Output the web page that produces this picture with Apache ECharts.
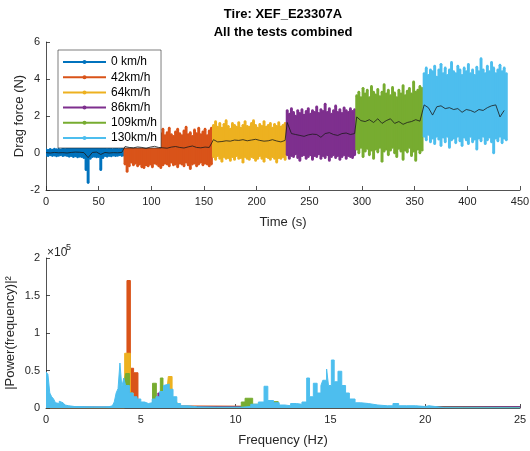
<!DOCTYPE html>
<html><head><meta charset="utf-8">
<script src="https://cdn.jsdelivr.net/npm/echarts@6/dist/echarts.min.js"></script>
<style>html,body{margin:0;padding:0;background:#fff}#c{width:530px;height:451px}</style>
</head><body><div id="c"></div>
<script>
// ---------- categories ----------
const speeds = ['0 km/h','42km/h','64km/h','86km/h','109km/h','130km/h'];
const colors = ['#0072BD','#D95319','#EDB120','#7E2F8E','#77AC30','#4DBEEE'];
const titleLines = ['Tire: XEF_E23307A','All the tests combined'];

// ---------- time signal: envelope (high / low) every 2 s ----------
const segStart = [0,75,159,229,295,359];
const bandStep = 2;
const hi0 = [0.18,0.15,0.2,0.16,0.22,0.18,0.2,0.17,0.24,0.2,0.22,0.25,0.3,0.28,0.35,0.32,0.3,0.38,0.33,0.36,0.3,0.34,0.28,0.25,0.3,0.24,0.26,0.22,0.27,0.2,0.24,0.22,0.2,0.25,0.22,0.2,0.24,0.26];
const lo0 = [-0.12,-0.15,-0.1,-0.14,-0.12,-0.16,-0.13,-0.1,-0.15,-0.12,-0.14,-0.18,-0.15,-0.2,-0.16,-0.22,-0.18,-0.2,-0.25,-0.9,-1.6,-0.3,-0.2,-0.18,-0.22,-0.2,-0.9,-0.25,-0.15,-0.18,-0.14,-0.16,-0.12,-0.15,-0.13,-0.1,-0.14,-0.12];
const hi42 = [1.0,1.3,0.9,1.1,1.2,0.85,1.0,1.35,1.1,0.9,1.2,1.0,0.95,1.4,1.1,1.25,0.9,1.05,1.3,0.95,1.1,1.35,1.0,0.9,1.15,1.3,1.05,0.95,1.2,1.4,1.0,1.1,0.9,1.25,1.05,1.35,1.0,1.15,1.3,0.95,1.2,1.35];
const lo42 = [-0.6,-1.0,-0.7,-0.5,-0.65,-0.55,-0.7,-0.6,-0.75,-0.8,-0.65,-0.7,-0.6,-0.75,-0.55,-0.6,-0.7,-0.8,-0.65,-0.55,-0.6,-0.7,-0.5,-0.65,-0.6,-0.75,-0.55,-0.6,-0.7,-0.5,-0.65,-0.85,-0.6,-0.55,-0.7,-0.6,-0.5,-0.65,-0.55,-0.6,-0.7,-0.6];
const hi64 = [1.5,1.7,1.4,1.6,1.35,1.55,1.75,1.45,1.3,1.6,1.5,1.4,1.65,1.35,1.5,1.7,1.45,1.4,1.6,1.75,1.5,1.35,1.55,1.45,1.7,1.4,1.5,1.6,1.35,1.55,1.45,1.65,1.4,1.5,1.6];
const lo64 = [-0.2,-0.35,-0.15,-0.3,-0.45,-0.2,-0.3,-0.25,-0.4,-0.2,-0.35,-0.15,-0.3,-0.25,-0.5,-0.2,-0.3,-0.35,-0.2,-0.25,-0.4,-0.3,-0.15,-0.3,-0.45,-0.2,-0.25,-0.35,-0.2,-0.3,-0.5,-0.25,-0.3,-0.2,-0.35];
const hi86 = [2.3,2.1,2.4,2.2,2.0,2.3,2.15,2.35,2.05,2.25,2.4,2.1,2.3,2.2,2.5,2.15,2.35,2.25,2.65,2.2,2.4,2.1,2.3,2.55,2.2,2.35,2.15,2.45,2.3,2.2,2.4,2.25,2.35];
const lo86 = [-0.1,-0.3,-0.15,-0.2,-0.05,-0.25,-0.4,-0.15,-0.1,-0.3,-0.2,-0.1,-0.35,-0.15,-0.2,-0.05,-0.3,-0.15,-0.25,-0.1,-0.4,-0.2,-0.1,-0.25,-0.15,-0.35,-0.2,-0.1,-0.3,-0.15,-0.2,-0.25,-0.1];
const hi109 = [3.1,3.3,3.0,3.5,3.2,3.4,3.0,3.6,3.3,3.15,3.45,3.05,3.3,3.7,3.2,3.4,3.1,3.55,3.25,3.0,3.4,3.2,3.65,3.1,3.35,3.5,3.2,3.85,3.3,3.4,3.6,3.5];
const lo109 = [0.2,0.0,0.3,-0.2,0.1,0.25,-0.1,0.15,-0.3,0.2,0.05,0.3,-0.45,0.1,0.2,-0.1,0.15,0.3,0.0,-0.2,0.25,0.1,-0.35,0.15,0.05,0.3,-0.15,0.1,-0.4,0.2,0.0,0.15];
const hi130 = [4.3,4.6,4.2,4.5,4.4,4.7,4.1,4.5,4.8,4.3,4.6,4.2,4.5,4.9,4.4,4.3,4.7,4.5,4.2,4.6,4.4,4.8,4.3,4.5,4.2,4.65,4.4,5.1,4.5,4.3,4.7,4.4,4.9,4.6,4.3,4.5,4.75,4.4,4.6,4.3];
const lo130 = [0.9,0.7,1.0,0.6,0.8,0.5,0.9,0.75,0.4,0.85,0.6,0.9,0.3,0.7,0.8,0.55,0.9,0.65,0.4,0.85,0.7,0.5,0.9,0.6,0.75,0.2,0.8,0.65,0.9,0.5,0.7,0.85,0.6,0.0,0.8,0.65,0.9,0.55,0.8,0.7];

// ---------- moving mean (black line), every 4 s ----------
const meanStep = 4;
const mean0 = [0.02,0.0,0.03,0.01,0.02,0.0,0.03,0.05,0.04,0.02,-0.25,0.03,0.05,-0.08,0.03,0.0,0.02,0.01,0.03];
const mean42 = [0.35,0.3,0.28,0.33,0.3,0.25,0.32,0.36,0.3,0.28,0.26,0.32,0.35,0.3,0.27,0.33,0.38,0.3,0.28,0.32,0.3];
const mean64 = [0.72,0.6,0.62,0.66,0.64,0.7,0.68,0.72,0.66,0.7,0.74,0.68,0.64,0.66,0.72,0.65,0.6,0.68];
const mean86 = [1.65,1.05,1.0,0.95,0.9,0.98,1.02,1.0,0.85,1.05,1.1,1.0,0.95,1.05,1.08,1.0,1.05];
const mean109 = [1.95,1.75,1.7,1.8,1.65,1.85,1.6,1.75,1.85,1.6,1.7,1.55,1.65,1.7,1.8,1.72];
const mean130 = [2.6,2.45,2.05,2.5,2.55,2.4,2.45,2.35,2.4,2.2,2.35,2.3,2.2,2.35,2.3,2.45,2.55,2.6,1.95,2.3];

// ---------- spectra: [frequency Hz, power] (step holds until next frequency) ----------
const spec0 = [[0,1500],[0.3,500],[25,300]];
const spec42 = [[0,400],[4.15,25000],[4.27,170000],[4.45,53000],[4.62,47000],[4.85,3000],[5.2,800],[25,300]];
const spec64 = [[0,400],[4.15,73000],[4.45,20000],[4.6,3000],[6.35,15000],[6.45,42000],[6.65,5000],[7,600],[25,300]];
const spec86 = [[0,400],[4.05,20000],[4.15,37000],[4.3,10000],[4.5,2000],[5.9,20000],[6.05,8000],[6.3,2000],[25,300]];
const spec109 = [[0,400],[4.1,30000],[4.2,46000],[4.4,20000],[4.55,3000],[5.62,33000],[5.82,10000],[6.03,40000],[6.17,12000],[6.6,8000],[6.9,1000],[10.3,8000],[10.5,13000],[10.9,5000],[11.9,8500],[12.25,2000],[12.6,800],[25,300]];
const spec130F = [0,0.1,0.2,0.3,0.4,0.5,0.6,0.7,0.8,0.9,1.0,1.1,1.2,1.3,1.5,2.0,2.5,3.0,3.3,3.5,3.6,3.7,3.8,3.9,4.0,4.1,4.2,4.4,4.6,4.8,5.0,5.2,5.4,5.6,5.8,6.0,6.2,6.3,6.5,6.7,6.9,7.1,7.5,8,9,10,10.3,10.8,11.2,11.5,11.7,12,12.3,12.6,12.9,13.2,13.5,13.75,13.9,14.1,14.3,14.5,14.6,14.8,14.9,15.05,15.2,15.4,15.6,15.8,16.0,16.3,16.6,17,17.5,18,18.3,18.6,19,19.5,20,20.2,21,22,23,24,25];
const spec130P = [48000,45000,20000,15000,12000,7000,6000,9000,7000,5000,4000,3000,3500,2000,1500,1000,1000,1500,3000,5000,8000,20000,26000,60000,28000,40000,30000,20000,15000,12000,8000,6000,7000,12000,15000,22000,30000,32000,25000,15000,6000,3000,1500,1000,1000,1000,2000,5000,8000,29000,10000,7000,4000,3000,6000,5000,8000,40000,15000,33000,20000,30000,37000,52000,30000,64000,35000,49000,30000,20000,12000,7000,6000,4000,3000,3000,6000,3000,3000,2000,3000,500,300,300,300,300,300];

// ---------- axes ----------
const timeAxis = {min:0, max:450, interval:50};
const forceAxis = {min:-2, max:6, interval:2};
const freqAxis = {min:0, max:25, interval:5};
const powerAxis = {min:0, max:200000, interval:50000, scale:1e5};

// ---------- build ----------
const bandHi = [hi0,hi42,hi64,hi86,hi109,hi130];
const bandLo = [lo0,lo42,lo64,lo86,lo109,lo130];
const means = [mean0,mean42,mean64,mean86,mean109,mean130];
const specs = [spec0,spec42,spec64,spec86,spec109,spec130F.map((f,i)=>[f,spec130P[i]])];

const axisColor = '#262626';
const FONT = '"Liberation Sans", Arial, Helvetica, sans-serif';

function mkAxis(cfg, extra) {
  return Object.assign({
    type:'value', min:cfg.min, max:cfg.max, interval:cfg.interval,
    axisLine:{show:true, onZero:false, lineStyle:{color:axisColor, width:0.8}},
    axisTick:{show:true, inside:true, length:4, lineStyle:{color:axisColor, width:0.8}},
    axisLabel:{color:axisColor, fontSize:11, fontFamily:FONT, margin:6},
    splitLine:{show:false},
    nameMoveOverlap:false,
    nameTextStyle:{color:axisColor, fontSize:13, fontFamily:FONT}
  }, extra);
}

const series = [];
bandHi.forEach((hiArr, k) => {
  const data = hiArr.map((h, i) => [segStart[k] + i*bandStep, bandLo[k][i], h]);
  const col = colors[k];
  series.push({
    type:'custom', name:'band '+speeds[k], xAxisIndex:0, yAxisIndex:0, clip:true,
    encode:{x:0, y:[1,2]},
    data,
    renderItem(params, api) {
      const t = api.value(0), lo = api.value(1), hi = api.value(2);
      const a = api.coord([t - bandStep/2 - 0.4, hi]);
      const b = api.coord([t + bandStep/2 + 0.4, lo]);
      const c1 = api.coord([t, hi]);
      const c2 = api.coord([t, lo]);
      return {type:'group', children:[
        {type:'rect', shape:{x:a[0], y:a[1], width:b[0]-a[0], height:b[1]-a[1]}, style:{fill:col}},
        {type:'circle', shape:{cx:c1[0], cy:c1[1], r:1.3}, style:{fill:col}},
        {type:'circle', shape:{cx:c2[0], cy:c2[1], r:1.3}, style:{fill:col}}
      ]};
    }
  });
});
const meanData = [];
means.forEach((arr, k) => arr.forEach((v, i) => meanData.push([segStart[k] + i*meanStep, v])));
series.push({type:'line', name:'mean', xAxisIndex:0, yAxisIndex:0, data:meanData, symbol:'none',
  lineStyle:{color:'#1a1a1a', width:0.8}, z:5});
speeds.forEach((s, k) => series.push({type:'line', name:s, xAxisIndex:0, yAxisIndex:0, data:[],
  symbol:'circle', symbolSize:4, itemStyle:{color:colors[k]}, lineStyle:{color:colors[k], width:1.5}}));
specs.forEach((d, k) => series.push({type:'line', name:'spec '+speeds[k], xAxisIndex:1, yAxisIndex:1,
  data:d, step:'end', symbol:'none', lineStyle:{color:colors[k], width:1},
  areaStyle:{color:colors[k], opacity:1}, z:2+k}));

const chart = echarts.init(document.getElementById('c'), null, {renderer:'canvas'});
chart.setOption({
  animation:false,
  backgroundColor:'#fff',
  textStyle:{fontFamily:FONT},
  grid:[
    {left:46, right:10, top:42, height:148, containLabel:false, outerBoundsMode:'none'},
    {left:46, right:10, top:258, height:150, containLabel:false, outerBoundsMode:'none'}
  ],
  xAxis:[
    mkAxis(timeAxis, {gridIndex:0, name:'Time (s)', nameLocation:'middle', nameGap:26}),
    mkAxis(freqAxis, {gridIndex:1, name:'Frequency (Hz)', nameLocation:'middle', nameGap:26})
  ],
  yAxis:[
    mkAxis(forceAxis, {gridIndex:0, name:'Drag force (N)', nameLocation:'middle', nameGap:20}),
    mkAxis(powerAxis, {gridIndex:1, name:'|Power(frequency)|²', nameLocation:'middle', nameGap:29,
      axisLabel:{color:axisColor, fontSize:11, fontFamily:FONT, margin:6,
        formatter: v => String(v / powerAxis.scale)}})
  ],
  legend:{
    data:speeds, orient:'vertical', left:58, top:50,
    itemWidth:43, itemHeight:5, itemGap:1.2,
    padding:[5,4,3,4], borderColor:axisColor, borderWidth:0.6, backgroundColor:'#fff',
    textStyle:{fontSize:12, color:'#000', fontFamily:FONT, lineHeight:14},
    selectedMode:false
  },
  graphic:[
    {type:'text', x:283, y:14, style:{text:titleLines[0], textAlign:'center', textVerticalAlign:'middle',
      font:'bold 13px '+FONT, fill:'#000'}},
    {type:'text', x:283, y:32, style:{text:titleLines[1], textAlign:'center', textVerticalAlign:'middle',
      font:'bold 13px '+FONT, fill:'#000'}},
    {type:'text', x:47, y:253, style:{text:'×10', textAlign:'left', textVerticalAlign:'middle',
      font:'12px '+FONT, fill:axisColor}},
    {type:'text', x:66, y:248, style:{text:'5', textAlign:'left', textVerticalAlign:'middle',
      font:'9px '+FONT, fill:axisColor}}
  ],
  series
});
</script></body></html>
